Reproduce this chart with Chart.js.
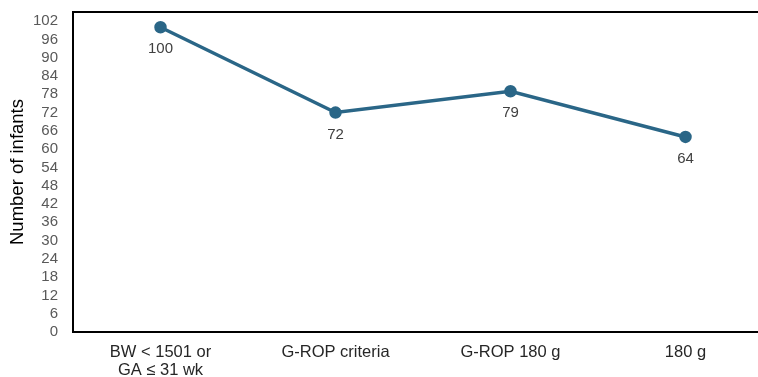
<!DOCTYPE html>
<html>
<head>
<meta charset="utf-8">
<script src="https://cdn.jsdelivr.net/npm/chart.js@4/dist/chart.umd.min.js"></script>
<style>
  html, body { margin: 0; padding: 0; background: #fff; overflow: hidden; }
  #wrap { position: relative; width: 790px; height: 377px; }
</style>
</head>
<body>
<div id="wrap"><canvas id="c"></canvas></div>
<script>
const categories = [["BW < 1501 or", "GA \u2264 31 wk"], "G-ROP criteria", "G-ROP 180 g", "180 g"];
const infants = [100, 72, 79, 64];
const yTicks = [0, 6, 12, 18, 24, 30, 36, 42, 48, 54, 60, 66, 72, 78, 84, 90, 96, 102];

const lineColor = '#2a6687';
const FONT = '"Liberation Sans", Arial, sans-serif';

const boxPlugin = {
  id: 'box',
  afterDraw(chart) {
    const {ctx, chartArea: a} = chart;
    ctx.save();
    ctx.strokeStyle = '#000';
    ctx.lineWidth = 2;
    ctx.strokeRect(a.left, a.top, a.right - a.left, a.bottom - a.top);
    ctx.restore();
  }
};

const labelPlugin = {
  id: 'vlabels',
  afterDatasetsDraw(chart) {
    const {ctx} = chart;
    const meta = chart.getDatasetMeta(0);
    ctx.save();
    ctx.font = '15px ' + FONT;
    ctx.fillStyle = '#404040';
    ctx.textAlign = 'center';
    ctx.textBaseline = 'middle';
    meta.data.forEach((pt, i) => {
      ctx.fillText(String(infants[i]), pt.x, pt.y + 22);
    });
    ctx.restore();
  }
};

new Chart(document.getElementById('c'), {
  type: 'line',
  data: {
    labels: categories,
    datasets: [{
      data: infants,
      borderColor: lineColor,
      backgroundColor: lineColor,
      borderWidth: 3.5,
      pointRadius: 4.5,
      pointHoverRadius: 4.5,
      tension: 0
    }]
  },
  options: {
    responsive: true,
    maintainAspectRatio: false,
    animation: false,
    layout: { padding: { top: 12, right: 17, bottom: 0, left: 0 } },
    plugins: { legend: { display: false }, tooltip: { enabled: false } },
    scales: {
      x: {
        offset: true,
        grid: { display: false, drawTicks: false, offset: true },
        border: { display: false },
        ticks: {
          color: '#262626',
          font: { family: FONT, size: 16.5, lineHeight: 1.1 },
          padding: 11,
          maxRotation: 0,
          autoSkip: false
        },
        afterFit(scale) { scale.height = 45; scale.paddingLeft = 0; scale.paddingRight = 0; }
      },
      y: {
        min: 0,
        max: 105,
        grid: { display: false, drawTicks: false },
        border: { display: false },
        ticks: {
          autoSkip: false,
          color: '#595959',
          font: { family: FONT, size: 15 },
          padding: 15
        },
        afterBuildTicks(scale) {
          scale.ticks = yTicks.map(v => ({ value: v }));
        },
        title: {
          display: true,
          text: 'Number of infants',
          color: '#000',
          font: { family: FONT, size: 18.5 },
          padding: { top: 7, bottom: 0 }
        },
        afterFit(scale) { scale.width = 73; scale.paddingTop = 0; scale.paddingBottom = 0; }
      }
    }
  },
  plugins: [boxPlugin, labelPlugin]
});
</script>
</body>
</html>
